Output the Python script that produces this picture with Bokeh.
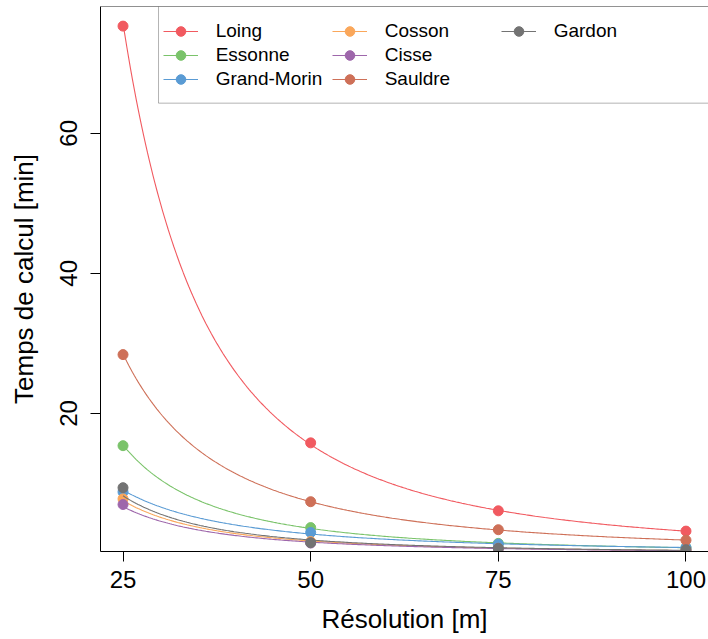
import numpy as np
from bokeh.plotting import figure
from bokeh.models import Range1d, FixedTicker, Legend, LegendItem, BoxAnnotation, Span
from bokeh.embed import file_html
from bokeh.resources import INLINE

# ---- data ----
resolution = [25, 50, 75, 100]
x_ticks = [25, 50, 75, 100]
y_ticks = [20, 40, 60]

names = ["Loing", "Essonne", "Grand-Morin", "Cosson", "Cisse", "Sauldre", "Gardon"]
loing = [75.3, 15.8, 6.1, 3.2]
essonne = [15.4, 3.7, 1.45, 0.85]
grand_morin = [8.8, 3.0, 1.35, 0.85]
cosson = [7.8, 1.7, 0.75, 0.45]
cisse = [7.0, 1.5, 0.7, 0.42]
sauldre = [28.4, 7.4, 3.4, 1.9]
gardon = [9.4, 1.55, 0.75, 0.55]
series = [loing, essonne, grand_morin, cosson, cisse, sauldre, gardon]
colors = ["#F15A60", "#7AC36A", "#5A9BD4", "#FAA75B", "#9E67AB", "#CE7058", "#737373"]

FONT = "Liberation Sans"

p = figure(width=708, height=639, output_backend="svg", toolbar_location=None,
           x_range=Range1d(22, 103), y_range=Range1d(0.29, 78.1),
           min_border_left=100, min_border_right=0, min_border_top=6, min_border_bottom=88,
           background_fill_color="white", border_fill_color="white")
p.xgrid.visible = False
p.ygrid.visible = False
p.outline_line_color = None

for ax, ticks in ((p.xaxis[0], x_ticks), (p.yaxis[0], y_ticks)):
    ax.ticker = FixedTicker(ticks=ticks)
    ax.major_tick_out = 10
    ax.major_tick_in = 0
    ax.minor_tick_out = 0
    ax.minor_tick_in = 0
    ax.axis_line_color = "black"
    ax.major_tick_line_color = "black"
    ax.major_label_text_font = FONT
    ax.major_label_text_font_size = "24px"
    ax.major_label_text_color = "black"
    ax.axis_label_text_font = FONT
    ax.axis_label_text_font_size = "26px"
    ax.axis_label_text_font_style = "normal"
    ax.axis_label_text_color = "black"

p.xaxis[0].axis_label = "Résolution [m]"
p.xaxis[0].major_label_standoff = 9
p.xaxis[0].axis_label_standoff = 13
p.yaxis[0].axis_label = "Temps de calcul [min]"
p.yaxis[0].major_label_orientation = "vertical"
p.yaxis[0].major_label_standoff = 13
p.yaxis[0].axis_label_standoff = 19

# top edge of the plot box
p.add_layout(Span(location=p.y_range.end, dimension="width", line_color="#222222", line_width=1))

items = []
xr = np.asarray(resolution, dtype=float)
xs = np.linspace(min(resolution), max(resolution), 300)
for name, ys, col in zip(names, series, colors):
    # power-law fit of the measured points (log-log least squares)
    b, a = np.polyfit(np.log(xr), np.log(np.asarray(ys, dtype=float)), 1)
    fit = np.exp(a) * xs ** b
    lr = p.line(xs, fit, line_color=col, line_width=1.1)
    sr = p.scatter(resolution, ys, size=10, fill_color=col, line_color=col)
    items.append(LegendItem(label=name, renderers=[lr, sr]))

# legend frame (top-right corner of the plotting region)
box = BoxAnnotation(left=29.73, bottom=64.3, fill_color="white", fill_alpha=1.0,
                    line_color="black", line_width=1)
p.add_layout(box)

legend = Legend(items=items, location=(62.7, 460), orientation="vertical",
                ncols=3, nrows=3, glyph_width=35, glyph_height=24, label_height=24,
                label_width=116, label_standoff=18, spacing=0, padding=0, margin=0,
                border_line_color=None, background_fill_alpha=0,
                label_text_font=FONT, label_text_font_size="19px",
                label_text_color="black")
p.add_layout(legend)

open("out.html", "w").write(file_html(p, INLINE))
